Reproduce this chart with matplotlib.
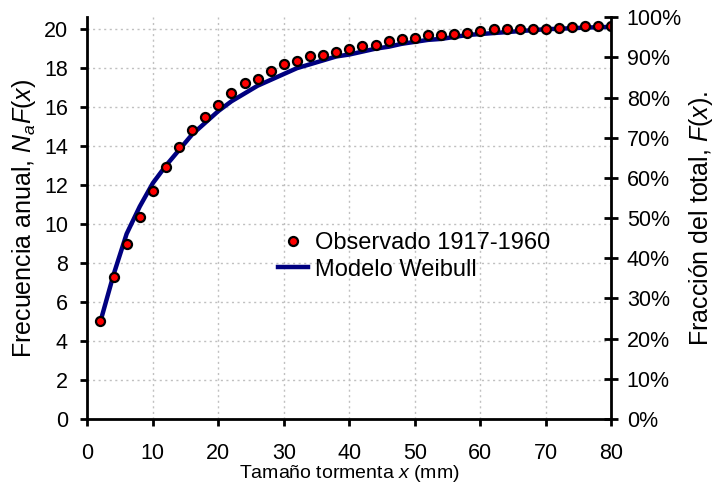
import matplotlib
matplotlib.use("Agg")
import matplotlib.pyplot as plt
from matplotlib.ticker import FuncFormatter

plt.rcParams['font.family'] = ['Liberation Sans', 'DejaVu Sans']
plt.rcParams['mathtext.fontset'] = 'custom'
plt.rcParams['mathtext.rm'] = 'Liberation Sans'
plt.rcParams['mathtext.it'] = 'Liberation Sans:italic'

# Storm size x (mm)
x_obs = [2, 4, 6, 8, 10, 12, 14, 16, 18, 20, 22, 24, 26, 28, 30, 32, 34, 36, 38, 40,
         42, 44, 46, 48, 50, 52, 54, 56, 58, 60, 62, 64, 66, 68, 70, 72, 74, 76, 78, 80]
# Observed annual frequency 1917-1960
obs = [5.03, 7.29, 9.0, 10.38, 11.7, 12.95, 13.96, 14.84, 15.5, 16.13,
       16.74, 17.26, 17.44, 17.87, 18.23, 18.38, 18.64, 18.69, 18.85, 19.0,
       19.15, 19.2, 19.41, 19.51, 19.56, 19.72, 19.72, 19.77, 19.82, 19.92,
       20.02, 20.02, 20.02, 20.02, 20.02, 20.07, 20.12, 20.18, 20.18, 20.18]
# Weibull model
weib = [5.0, 7.4, 9.5, 10.9, 12.1, 13.0, 13.8, 14.6, 15.2, 15.8,
        16.3, 16.7, 17.1, 17.4, 17.7, 18.0, 18.2, 18.4, 18.6, 18.7,
        18.85, 19.0, 19.1, 19.25, 19.35, 19.45, 19.5, 19.6, 19.7, 19.75,
        19.8, 19.85, 19.9, 19.95, 20.0, 20.02, 20.05, 20.08, 20.1, 20.12]

y_top = 20.61
y_ticks = [0, 2, 4, 6, 8, 10, 12, 14, 16, 18, 20]
x_ticks = [0, 10, 20, 30, 40, 50, 60, 70, 80]
pct_ticks = [0.0, 0.1, 0.2, 0.3, 0.4, 0.5, 0.6, 0.7, 0.8, 0.9, 1.0]

fig = plt.figure(figsize=(7.14, 4.84), dpi=100)
ax = fig.add_axes([0.1223, 0.1343, 0.7341, 0.8300])

ax.plot(x_obs, weib, color='#000080', lw=3.2, label='Modelo Weibull', zorder=3)
ax.plot(x_obs, obs, linestyle='none', marker='o', markersize=6.5,
        markerfacecolor='#ff0000', markeredgecolor='black', markeredgewidth=1.6,
        label='Observado 1917-1960', zorder=4)

ax.set_xlim(0, 80)
ax.set_ylim(0, y_top)
ax.set_xticks(x_ticks)
ax.set_yticks(y_ticks)
ax.grid(True, color='#c0c0c0', linestyle=(0, (1.5, 2.5)), linewidth=1.0)
ax.set_axisbelow(True)

ax.spines['top'].set_visible(False)
ax.spines['right'].set_visible(False)
for s in ['left', 'bottom']:
    ax.spines[s].set_linewidth(2.0)

ax.tick_params(axis='both', direction='out', length=5, width=2.0,
               labelsize=15.5, colors='black')
ax.tick_params(axis='x', pad=12)
ax.tick_params(axis='y', pad=9)

ax.set_xlabel('Tamaño tormenta $x$ (mm)', fontsize=14, labelpad=-0.5)
ax.set_ylabel('Frecuencia anual, $N_aF(x)$', fontsize=18, labelpad=4)

ax2 = ax.twinx()
ax2.set_ylim(0, 1)
ax2.set_yticks(pct_ticks)
ax2.yaxis.set_major_formatter(FuncFormatter(lambda v, p: f"{v*100:.0f}%"))
for s in ['top', 'left', 'bottom']:
    ax2.spines[s].set_visible(False)
ax2.spines['right'].set_linewidth(2.0)
ax2.tick_params(axis='y', direction='inout', length=10, width=2.0,
                labelsize=15.5, pad=6)
ax2.set_ylabel('Fracción del total, $F(x)$.', fontsize=18, labelpad=4)

handles, labels = ax.get_legend_handles_labels()
leg = ax.legend(handles[::-1], labels[::-1], loc='center left',
                bbox_to_anchor=(0.345, 0.405), frameon=False, fontsize=17,
                handlelength=1.3, handletextpad=0.3, labelspacing=0.2,
                borderaxespad=0)

fig.savefig('out.png', dpi=100)
